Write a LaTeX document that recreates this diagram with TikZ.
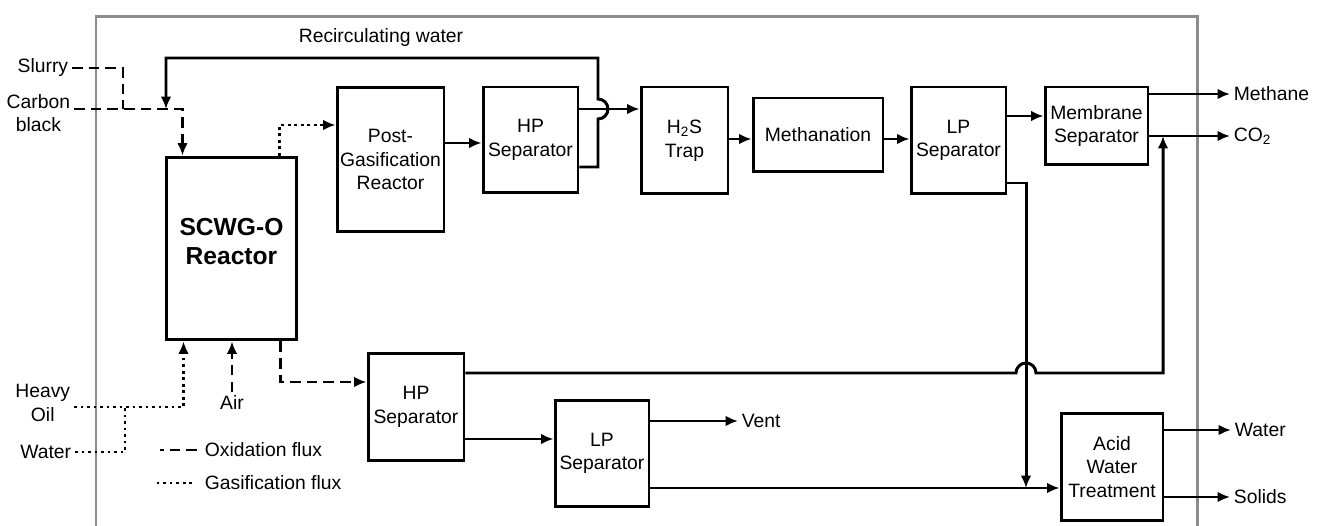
\documentclass[tikz,border=0pt]{standalone}
\usepackage{fontspec}
\setmainfont{Liberation Sans}
\usetikzlibrary{arrows.meta,calc}

\tikzset{
  blk/.style={draw,line width=1.7pt,align=center,inner sep=1pt},
  lbl/.style={inner sep=2pt,align=center},
  flow/.style={line width=1.7pt,-{Latex[length=7pt,width=6pt]}},
  ox/.style={flow,dash pattern=on 6pt off 3.5pt},
  gas/.style={flow,dash pattern=on 1.7pt off 2pt},
}

\begin{document}
\begin{tikzpicture}[x=0.02cm,y=-0.02cm,font=\fontsize{11}{13.5}\selectfont]
\useasboundingbox (0,0) rectangle (1326,526);
\draw[gray!90,line width=1.7pt] (96,526)--(96,17)--(1197,17)--(1197,526);

% process units
\node[blk,minimum width=2.62cm,minimum height=3.66cm,text depth=8pt,font=\fontsize{14}{16}\selectfont\bfseries] (reac) at (231.5,248.5) {SCWG-O\\Reactor};
\node[blk,minimum width=2.14cm,minimum height=2.9cm] (post) at (390.5,159.5) {Post-\\Gasification\\Reactor};
\node[blk,minimum width=1.9cm,minimum height=2.12cm] (hps1) at (530.5,140) {HP\\Separator};
\node[blk,minimum width=1.74cm,minimum height=2.14cm] (trap) at (684.5,140.5) {H\textsubscript{2}S\\Trap};
\node[blk,minimum width=2.6cm,minimum height=1.48cm] (meth) at (818,135) {Methanation};
\node[blk,minimum width=1.9cm,minimum height=2.14cm] (lps1) at (958.5,140.5) {LP\\Separator};
\node[blk,minimum width=2.06cm,minimum height=1.56cm] (memb) at (1096.5,126) {Membrane\\Separator};
\node[blk,minimum width=1.92cm,minimum height=2.16cm] (hps2) at (416,407) {HP\\Separator};
\node[blk,minimum width=1.88cm,minimum height=2.14cm] (lps2) at (602,453.5) {LP\\Separator};
\node[blk,minimum width=2.04cm,minimum height=2.16cm] (acid) at (1112,467) {Acid\\Water\\Treatment};

% stream labels
\node[lbl,anchor=east] (slurry) at (72,68) {Slurry};
\node[lbl,anchor=east] (carbon) at (74,113) {Carbon\\black};
\node[lbl,anchor=east] (oil) at (74,403) {Heavy\\Oil};
\node[lbl,anchor=east] (water) at (75,452) {Water};
\node[lbl] (air) at (232,403) {Air};
\node[lbl] (recirc) at (381,38) {Recirculating water};
\node[lbl,anchor=west] (methane) at (1230,94) {Methane};
\node[lbl,anchor=west] (co2) at (1230,136) {CO\textsubscript{2}};
\node[lbl,anchor=west] (vent) at (738,421) {Vent};
\node[lbl,anchor=west] (wout) at (1231,430) {Water};
\node[lbl,anchor=west] (solids) at (1230,497) {Solids};
\node[lbl,anchor=west] (oxlbl) at (201,450) {Oxidation flux};
\node[lbl,anchor=west] (gaslbl) at (201,483) {Gasification flux};

\coordinate (j1) at (123,109);
\coordinate (j2) at (125,407);
\coordinate (mix) at (166,109);
\coordinate (mix2) at (1163,136);
\coordinate (mix3) at (1026,488);

% feeds
\draw[ox,-] (slurry.east) -| (j1);
\draw[ox] (carbon.east) ++(0,-4) -| ($(reac.north west)+(18,0)$);
\draw[gas,-] (water.east) -| (j2);
\draw[gas] (oil.east) ++(0,4) -| ($(reac.south west)+(19,0)$);
\draw[ox] (air.north) -- (air.north |- reac.south);

% reactor outlets
\draw[gas] ($(reac.north east)+(-19,0)$) |- (post.west |- 0,125);
\draw[ox] ($(reac.south east)+(-18,0)$) |- (hps2.west |- 0,382);

% gas line
\draw[flow] (post.east |- 0,143) -- (hps1.west |- 0,143);
\draw[flow] (hps1.east |- 0,109) -- (trap.west |- 0,109);
\draw[flow] (hps1.east |- 0,167) -| (598,119) arc[start angle=-90,end angle=90,radius=0.2cm] -- (598,58) -| (mix);
\draw[flow] (trap.east |- 0,139) -- (meth.west |- 0,139);
\draw[flow] (meth.east |- 0,139) -- (lps1.west |- 0,139);
\draw[flow] (lps1.east |- 0,116) -- (memb.west |- 0,116);
\draw[flow] (memb.east |- methane.west) -- (methane.west);
\draw[flow] (memb.east |- co2.west) -- (co2.west);
\draw[flow] (lps1.east |- 0,183) -| (mix3);

% liquid line
\draw[flow] (hps2.east |- 0,373) -- (1016,373) arc[start angle=180,end angle=0,radius=0.2cm] -| (mix2);
\draw[flow] (hps2.east |- 0,439) -- (lps2.west |- 0,439);
\draw[flow] (lps2.east |- vent.west) -- (vent.west);
\draw[flow] (lps2.east |- 0,488) -- (acid.west |- 0,488);
\draw[flow] (acid.east |- wout.west) -- (wout.west);
\draw[flow] (acid.east |- solids.west) -- (solids.west);

% legend
\draw[ox,-] (oxlbl.west) ++(-4,0) -- ++(-37,0);
\draw[gas,-] (gaslbl.west) ++(-9,0) -- ++(-39,0);
\end{tikzpicture}
\end{document}
